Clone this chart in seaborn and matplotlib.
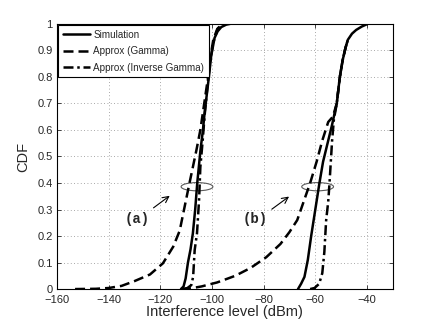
import numpy as np
import pandas as pd
import seaborn as sns
import matplotlib.pyplot as plt
from matplotlib.patches import Ellipse

sns.set_theme(style="ticks", context="paper")
plt.rcParams["font.family"] = ["Liberation Sans", "DejaVu Sans"]

# --------------------------------------------------
# Data (dBm, CDF)
# --------------------------------------------------
# group (a)
sim_a_x = [-112, -111, -110.2, -109.3, -108.3, -107.4, -106.5, -105.7, -104.5, -103.5,
           -102.9, -101.2, -100.3, -99, -97.8, -96.4, -94.5, -93]
sim_a_y = [0, 0.01, 0.04, 0.10, 0.15, 0.21, 0.30, 0.40, 0.52, 0.60,
           0.66, 0.80, 0.88, 0.947, 0.972, 0.988, 0.997, 1.0]

gam_a_x = [-153, -145, -140, -135, -130, -124, -119, -115, -112.5, -110.6,
           -108.7, -107.4, -106, -104.5, -103, -101.5, -100.5, -99.5, -98, -96]
gam_a_y = [0, 0.001, 0.004, 0.012, 0.03, 0.055, 0.097, 0.16, 0.22, 0.31,
           0.40, 0.46, 0.525, 0.60, 0.70, 0.80, 0.88, 0.94, 0.98, 0.995]

inv_a_x = [-111, -109.5, -108, -107.3, -106.7, -105.8, -105, -104.5, -103.6, -102.8,
           -101.5, -100.5, -99.5, -97.7, -96]
inv_a_y = [0, 0.004, 0.015, 0.046, 0.147, 0.21, 0.336, 0.46, 0.56, 0.66,
           0.79, 0.87, 0.93, 0.984, 0.997]

# group (b)
sim_b_x = [-66.7, -65.5, -64.2, -62.9, -61.6, -60, -58.4, -57, -55, -53.5,
           -51.7, -50.5, -49.4, -48.3, -47.4, -45.8, -44.2, -42, -39.7]
sim_b_y = [0, 0.02, 0.046, 0.11, 0.2, 0.30, 0.40, 0.48, 0.56, 0.62,
           0.70, 0.80, 0.864, 0.91, 0.94, 0.963, 0.977, 0.99, 1.0]

gam_b_x = [-112, -108, -104, -98, -91, -85, -79, -73.5, -70, -67, -64.5, -62,
           -59.5, -57.3, -55, -53.2, -51.7, -50.5, -49.4, -48.3, -47.4]
gam_b_y = [0, 0.003, 0.01, 0.025, 0.05, 0.08, 0.12, 0.17, 0.215, 0.26, 0.33, 0.40,
           0.48, 0.56, 0.63, 0.65, 0.70, 0.80, 0.864, 0.91, 0.94]

inv_b_x = [-62, -60.3, -58.5, -57.3, -56.5, -55.8, -55, -54.5, -53.5, -52.8,
           -51.7, -50.5, -49.4, -48.3, -47.4]
inv_b_y = [0, 0.004, 0.02, 0.06, 0.14, 0.26, 0.33, 0.40, 0.56, 0.64,
           0.70, 0.80, 0.864, 0.91, 0.94]

x_ticks = [-160, -140, -120, -100, -80, -60, -40]
y_ticks = [0, 0.1, 0.2, 0.3, 0.4, 0.5, 0.6, 0.7, 0.8, 0.9, 1]
y_tick_labels = ["0", "0.1", "0.2", "0.3", "0.4", "0.5", "0.6", "0.7", "0.8", "0.9", "1"]

series = [
    ("Approx (Gamma)", (0, (4, 2)), [(gam_a_x, gam_a_y), (gam_b_x, gam_b_y)]),
    ("Approx (Inverse Gamma)", (0, (4, 1.5, 1, 1.5)), [(inv_a_x, inv_a_y), (inv_b_x, inv_b_y)]),
    ("Simulation", "-", [(sim_a_x, sim_a_y), (sim_b_x, sim_b_y)]),
]

fig = plt.figure(figsize=(4.35, 3.27), dpi=100)
ax = fig.add_axes([0.131, 0.116, 0.772, 0.811])

for name, ls, groups in series:
    for i, (xs, ys) in enumerate(groups):
        df = pd.DataFrame({"x": xs, "y": ys})
        sns.lineplot(data=df, x="x", y="y", ax=ax, color="black", lw=1.8,
                     linestyle=ls, sort=False, estimator=None,
                     label=name if i == 0 else None)

# ellipses, arrows and group labels
for cx in [-105.8, -59.1]:
    ax.add_patch(Ellipse((cx, 0.386), 12.3, 0.031, fill=False, edgecolor="0.35", lw=0.8))

arrow = dict(arrowstyle="->", color="black", lw=0.8, mutation_scale=11)
ax.annotate("", xy=(-115.5, 0.358), xytext=(-123.5, 0.30), arrowprops=arrow)
ax.annotate("", xy=(-69.3, 0.355), xytext=(-77.7, 0.295), arrowprops=arrow)
mono = ["Liberation Mono", "DejaVu Sans Mono"]
ax.text(-129, 0.264, "(a)", family=mono, weight="bold", fontsize=10,
        ha="center", va="center")
ax.text(-83.2, 0.264, "(b)", family=mono, weight="bold", fontsize=10,
        ha="center", va="center")

ax.set_xlim(-160, -30)
ax.set_ylim(0, 1)
ax.set_xticks(x_ticks)
ax.set_xticklabels([f"\u2212{abs(t)}" for t in x_ticks])
ax.set_yticks(y_ticks)
ax.set_yticklabels(y_tick_labels)
ax.tick_params(direction="in", top=True, right=True, labelsize=8, length=3,
               width=0.6)
ax.tick_params(axis="x", pad=4.5)
ax.tick_params(axis="y", pad=3)
ax.grid(True, linestyle=(0, (1, 3)), color="0.55", lw=0.6)
for s in ax.spines.values():
    s.set_visible(True)
    s.set_color("black")
    s.set_linewidth(0.8)

ax.set_xlabel("Interference level (dBm)", fontsize=10.5, labelpad=0)
ax.set_ylabel("CDF", fontsize=10.5, labelpad=5)

# legend in the reference's order
handles, labels = ax.get_legend_handles_labels()
order = [labels.index(n) for n in ["Simulation", "Approx (Gamma)", "Approx (Inverse Gamma)"]]
leg = ax.legend([handles[k] for k in order], [labels[k] for k in order],
                loc="upper left", fontsize=7.1, fancybox=False, framealpha=1,
                edgecolor="black", borderaxespad=0.15, handlelength=2.7,
                labelspacing=0.65, borderpad=0.45, handletextpad=0.4)
leg.get_frame().set_linewidth(0.8)

fig.savefig("out.png", dpi=100)
